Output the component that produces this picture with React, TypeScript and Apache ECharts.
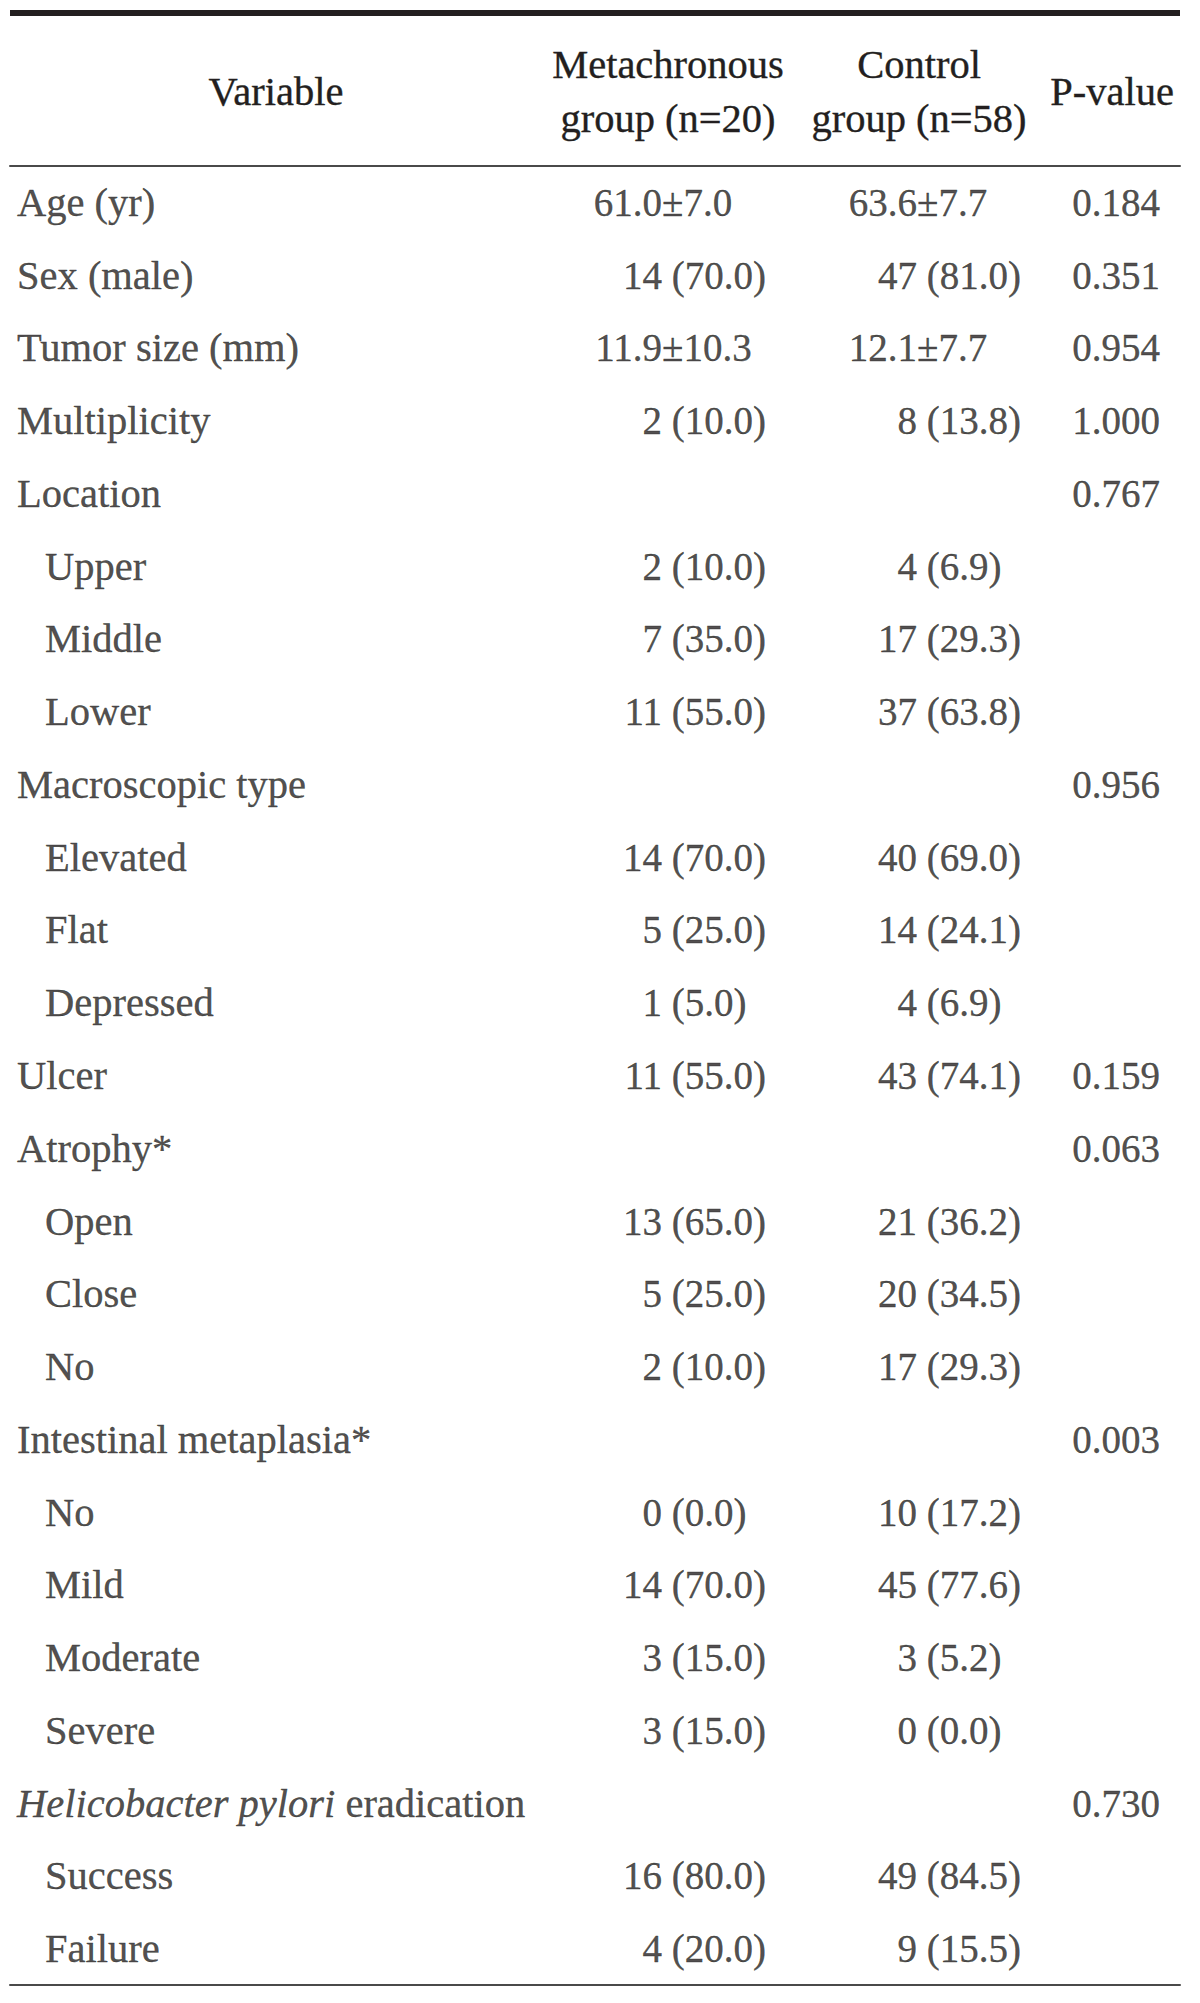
import React, { useEffect, useRef } from "react";
import * as echarts from "echarts";

const rowLabels = [
  "Age (yr)", "Sex (male)", "Tumor size (mm)", "Multiplicity", "Location",
  "Upper", "Middle", "Lower", "Macroscopic type", "Elevated", "Flat", "Depressed",
  "Ulcer", "Atrophy*", "Open", "Close", "No", "Intestinal metaplasia*",
  "No", "Mild", "Moderate", "Severe", "{i|Helicobacter pylori} eradication", "Success", "Failure",
];
const rowIndent = [0, 0, 0, 0, 0, 1, 1, 1, 0, 1, 1, 1, 0, 0, 1, 1, 1, 0, 1, 1, 1, 1, 0, 1, 1];
const metaValues = [
  "61.0±7.0", "14 (70.0)", "11.9±10.3", "2 (10.0)", "",
  "2 (10.0)", "7 (35.0)", "11 (55.0)", "", "14 (70.0)", "5 (25.0)", "1 (5.0)",
  "11 (55.0)", "", "13 (65.0)", "5 (25.0)", "2 (10.0)", "",
  "0 (0.0)", "14 (70.0)", "3 (15.0)", "3 (15.0)", "", "16 (80.0)", "4 (20.0)",
];
const controlValues = [
  "63.6±7.7", "47 (81.0)", "12.1±7.7", "8 (13.8)", "",
  "4 (6.9)", "17 (29.3)", "37 (63.8)", "", "40 (69.0)", "14 (24.1)", "4 (6.9)",
  "43 (74.1)", "", "21 (36.2)", "20 (34.5)", "17 (29.3)", "",
  "10 (17.2)", "45 (77.6)", "3 (5.2)", "0 (0.0)", "", "49 (84.5)", "9 (15.5)",
];
const pValues = [
  "0.184", "0.351", "0.954", "1.000", "0.767",
  "", "", "", "0.956", "", "", "",
  "0.159", "0.063", "", "", "", "0.003",
  "", "", "", "", "0.730", "", "",
];
const headers = ["Variable", "Metachronous\ngroup (n=20)", "Control\ngroup (n=58)", "P-value"];

const FONT = "'Liberation Serif', 'DejaVu Serif', serif";
const SIZE = 39;
const LSIZE = 40.5;
const INK = "#231f20";

function splitValue(v: string): [string, string] {
  if (v.includes("±")) {
    const k = v.indexOf("±");
    return [v.slice(0, k), v.slice(k)];
  }
  const k = v.indexOf(" (");
  return [v.slice(0, k), v.slice(k)];
}

export default function App() {
  const ref = useRef<HTMLDivElement>(null);
  useEffect(() => {
    document.body.style.margin = "0";
    const chart = echarts.init(ref.current!, null, { renderer: "svg" });
    const cats = rowLabels.map((_, i) => String(i));
    const labelBase = {
      show: true,
      position: "inside",
      verticalAlign: "middle",
      fontFamily: FONT,
      fontSize: SIZE,
      color: INK,
      textBorderColor: INK,
      textBorderWidth: 0.35,
      formatter: (p: any) => p.data.text,
    };
    const mk = (name: string, data: any[], align: string, extra: any = {}) => ({
      type: "scatter",
      name,
      symbolSize: 1,
      itemStyle: { color: "rgba(0,0,0,0)" },
      data,
      label: { ...labelBase, align, ...extra },
      silent: true,
    });
    const xVarMain = 17, xVarIndent = 45;
    const xMeta = 662, xCtrl = 917, xP = 1116;
    const labelData = rowLabels.map((t, i) => ({ value: [rowIndent[i] ? xVarIndent : xVarMain, cats[i]], text: t }));
    const left = (vals: string[], x: number) =>
      vals.map((v, i) => (v ? { value: [x, cats[i]], text: splitValue(v)[0] } : null)).filter(Boolean);
    const right = (vals: string[], x: number) =>
      vals.map((v, i) => (v ? { value: [x, cats[i]], text: splitValue(v)[1] } : null)).filter(Boolean);
    const pData = pValues.map((v, i) => (v ? { value: [xP, cats[i]], text: v } : null)).filter(Boolean);

    const headerText = (txt: string, x: number, y: number) => ({
      type: "text",
      x,
      y,
      style: {
        text: txt,
        fontFamily: FONT,
        fontSize: LSIZE,
        fill: INK,
        stroke: INK,
        lineWidth: 0.35,
        align: "center",
        verticalAlign: "middle",
        lineHeight: 54,
      },
    });

    chart.setOption({
      animation: false,
      grid: { left: 10, right: 20, top: 166, bottom: 18 },
      xAxis: [
        {
          type: "value", min: 10, max: 1180, position: "bottom",
          axisLine: { show: true, lineStyle: { color: "#4a4a4a", width: 2 } },
          axisTick: { show: false }, axisLabel: { show: false }, splitLine: { show: false },
        },
        {
          type: "value", min: 10, max: 1180, position: "top",
          axisLine: { show: true, lineStyle: { color: "#4a4a4a", width: 2 } },
          axisTick: { show: false }, axisLabel: { show: false }, splitLine: { show: false },
        },
      ],
      yAxis: {
        type: "category", data: cats, inverse: true, show: false,
      },
      graphic: [
        { type: "rect", shape: { x: 10, y: 10, width: 1170, height: 6 }, style: { fill: INK } },
        headerText(headers[0], 276, 91),
        headerText(headers[1], 668, 91),
        headerText(headers[2], 919, 91),
        headerText(headers[3], 1112, 91),
      ],
      series: [
        mk("var", labelData, "left", {
          fontSize: LSIZE,
          rich: {
            i: {
              fontStyle: "italic", fontFamily: FONT, fontSize: LSIZE, color: INK,
              textBorderColor: INK, textBorderWidth: 0.35,
            },
          },
        }),
        mk("metaL", left(metaValues, xMeta), "right"),
        mk("metaR", right(metaValues, xMeta), "left"),
        mk("ctrlL", left(controlValues, xCtrl), "right"),
        mk("ctrlR", right(controlValues, xCtrl), "left"),
        mk("p", pData, "center"),
      ],
    });
    return () => chart.dispose();
  }, []);
  return <div ref={ref} style={{ width: 1200, height: 2003 }} />;
}
